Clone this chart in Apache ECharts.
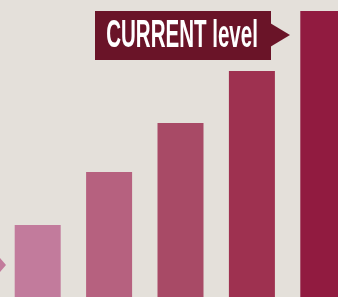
<!DOCTYPE html>
<html>
<head>
<meta charset="utf-8">
<script src="https://cdn.jsdelivr.net/npm/echarts@6/dist/echarts.min.js"></script>
<style>
  html, body { margin: 0; padding: 0; background: #e4e0da; }
  #chart { width: 338px; height: 297px; }
</style>
</head>
<body>
<div id="chart"></div>
<script>
// levels, lowest to highest
var levels = ['L1', 'L2', 'L3', 'L4', 'L5'];
var heights = [72, 125, 174, 226, 286];
var barColors = ['#c27b9c', '#b6617f', '#a84a66', '#9e3150', '#911b40'];
var calloutText = 'CURRENT level';

var chart = echarts.init(document.getElementById('chart'));

var option = {
  backgroundColor: '#e4e0da',
  animation: false,
  grid: { left: 2, width: 357, top: 0, bottom: 0, outerBoundsMode: 'none' },
  xAxis: {
    type: 'category',
    data: levels,
    show: false
  },
  yAxis: {
    type: 'value',
    min: 0,
    max: 297,
    show: false
  },
  series: [{
    type: 'bar',
    barWidth: 46,
    data: heights.map(function (v, i) {
      return { value: v, itemStyle: { color: barColors[i] } };
    })
  }],
  graphic: [
    // little pointer on the left edge
    {
      type: 'polygon',
      shape: { points: [[0, 258], [6, 265], [0, 272]] },
      style: { fill: '#c27b9c' }
    },
    // callout box
    {
      type: 'rect',
      shape: { x: 95, y: 11, width: 176, height: 49 },
      style: { fill: '#6a1428' }
    },
    {
      type: 'polygon',
      shape: { points: [[270, 23], [290, 35], [270, 47]] },
      style: { fill: '#6a1428' }
    },
    {
      type: 'text',
      x: 182,
      y: 37,
      scaleX: 0.54,
      style: {
        text: calloutText,
        fill: '#ffffff',
        fontFamily: 'Liberation Sans, Arial, sans-serif',
        fontWeight: 'bold',
        fontSize: 38,
        textAlign: 'center',
        textVerticalAlign: 'middle'
      }
    }
  ]
};

chart.setOption(option);
</script>
</body>
</html>
